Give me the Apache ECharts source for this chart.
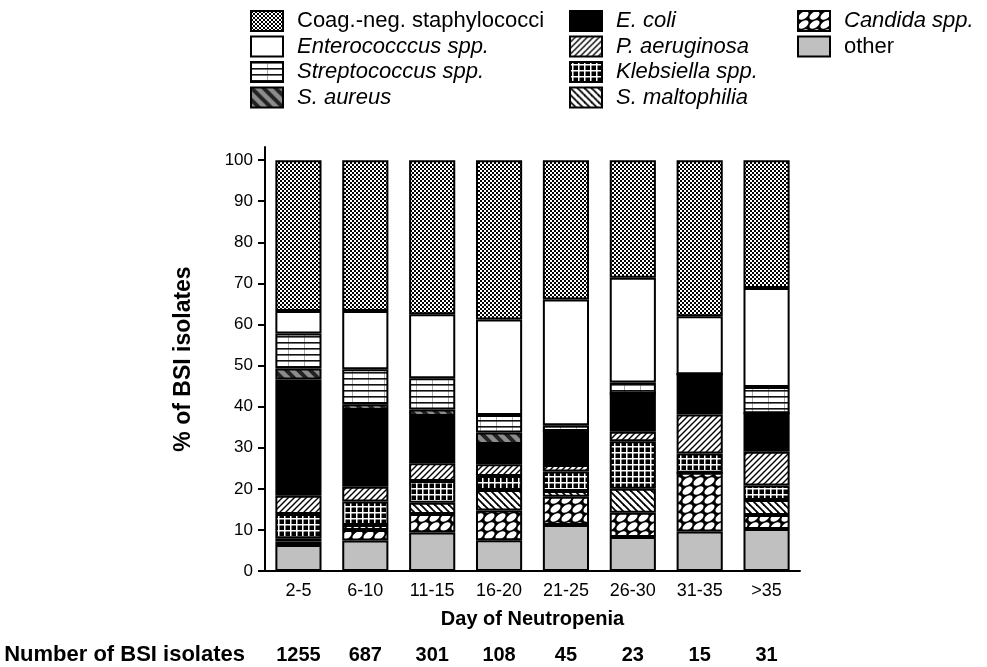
<!DOCTYPE html>
<html>
<head>
<meta charset="utf-8">
<script src="https://cdn.jsdelivr.net/npm/echarts@6/dist/echarts.min.js"></script>
<style>
html, body { margin: 0; padding: 0; background: #fff; }
#chart { width: 987px; height: 667px; }
</style>
</head>
<body>
<div id="chart"></div>
<script>
// Day-of-neutropenia groups and number of isolates in each
const categories = ['2-5', '6-10', '11-15', '16-20', '21-25', '26-30', '31-35', '>35'];
const isolateCounts = [1255, 687, 301, 108, 45, 23, 15, 31];
const yTicks = [0, 10, 20, 30, 40, 50, 60, 70, 80, 90, 100];

// Share of BSI isolates (%) per pathogen, one value per group
const cons          = [36.7, 36.7, 37.5, 38.8, 33.9, 28.6, 38.0, 31.1];
const enterococcus  = [5.5, 14.2, 15.6, 23.2, 30.6, 25.5, 14.1, 24.1];
const streptococcus = [8.5, 8.5, 7.6, 4.3, 1.4, 2.7, 0, 6.4];
const sAureus       = [2.7, 1.4, 1.6, 2.8, 0, 0, 0, 0];
const eColi         = [28.3, 18.7, 11.5, 4.9, 8.3, 9.3, 9.8, 9.4];
const pAeruginosa   = [4.4, 3.6, 4.3, 2.9, 1.6, 2.3, 9.5, 8.2];
const klebsiella    = [5.9, 5.7, 5.3, 3.4, 4.7, 11.6, 4.7, 3.5];
const sMaltophilia  = [0.8, 1.2, 2.7, 5.0, 1.4, 5.8, 0, 3.7];
const candida       = [0.9, 2.6, 4.5, 7.2, 6.9, 5.9, 14.3, 3.4];
const other         = [6.3, 7.4, 9.4, 7.5, 11.2, 8.3, 9.6, 10.2];

const FONT = '"Liberation Sans", Arial, Helvetica, sans-serif';

// ---- hatch / texture fills built on small canvas tiles ----
function tile(w, h, draw) {
  const c = document.createElement('canvas');
  c.width = w; c.height = h;
  const g = c.getContext('2d');
  draw(g, w, h);
  return { image: c, repeat: 'repeat' };
}
function diag(g, w, h, dir, width, color) {
  g.strokeStyle = color; g.lineWidth = width; g.lineCap = 'square';
  for (let k = -1; k <= 1; k++) {
    g.beginPath();
    if (dir > 0) { g.moveTo(k * w, h); g.lineTo(k * w + w, 0); }
    else { g.moveTo(k * w, 0); g.lineTo(k * w + w, h); }
    g.stroke();
  }
}
const fillCons = tile(4, 4, g => {
  g.fillStyle = '#fff'; g.fillRect(0, 0, 4, 4);
  g.fillStyle = '#000'; g.fillRect(0, 0, 2, 2); g.fillRect(2, 2, 2, 2);
});
const fillStrep = tile(16, 6, g => {
  g.fillStyle = '#fff'; g.fillRect(0, 0, 16, 6);
  g.fillStyle = '#aaa'; g.fillRect(0, 0, 1, 6);
  g.fillStyle = '#111'; g.fillRect(0, 0, 16, 1.6);
});
const fillAureus = tile(12, 12, g => {
  g.fillStyle = '#8c8c8c'; g.fillRect(0, 0, 12, 12);
  diag(g, 12, 12, -1, 4, '#222');
});
const fillPaer = tile(6, 6, g => {
  g.fillStyle = '#fff'; g.fillRect(0, 0, 6, 6);
  diag(g, 6, 6, 1, 1.4, '#000');
});
const fillKleb = tile(6, 6, g => {
  g.fillStyle = '#000'; g.fillRect(0, 0, 6, 6);
  g.fillStyle = '#fff'; g.fillRect(0, 2, 6, 1.5); g.fillRect(2, 0, 1.5, 6);
});
const fillMalt = tile(7, 7, g => {
  g.fillStyle = '#fff'; g.fillRect(0, 0, 7, 7);
  diag(g, 7, 7, -1, 1.8, '#000');
});
const fillCandida = tile(11, 9, g => {
  g.fillStyle = '#000'; g.fillRect(0, 0, 11, 9);
  g.fillStyle = '#fff';
  for (const dx of [-11, 0, 11]) for (const dy of [-9, 0, 9]) {
    g.beginPath();
    g.ellipse(5.5 + dx, 4.5 + dy, 5.6, 3.3, -0.6, 0, Math.PI * 2);
    g.fill();
  }
});

// stacking order, bottom to top
const stackDefs = [
  { name: 'other', data: other, fill: '#c0c0c0' },
  { name: 'Candida spp.', data: candida, fill: fillCandida },
  { name: 'S. maltophilia', data: sMaltophilia, fill: fillMalt },
  { name: 'Klebsiella spp.', data: klebsiella, fill: fillKleb },
  { name: 'P. aeruginosa', data: pAeruginosa, fill: fillPaer },
  { name: 'E. coli', data: eColi, fill: '#000' },
  { name: 'S. aureus', data: sAureus, fill: fillAureus },
  { name: 'Streptococcus spp.', data: streptococcus, fill: fillStrep },
  { name: 'Enterococccus spp.', data: enterococcus, fill: '#fff' },
  { name: 'Coag.-neg. staphylococci', data: cons, fill: fillCons }
];

const series = stackDefs.map(d => ({
  name: d.name,
  type: 'bar',
  stack: 'total',
  xAxisIndex: 0,
  barCategoryGap: '31%',
  data: d.data,
  itemStyle: { color: d.fill, borderColor: '#000', borderWidth: 2 },
  emphasis: { disabled: true },
  animation: false
}));

const legendText = { fontFamily: FONT, fontSize: 22, color: '#000', padding: [0, 0, 0, 9] };
const it = name => ({ name: name, textStyle: { fontStyle: 'italic' } });
const legendBase = {
  orient: 'vertical', top: 5, itemWidth: 32, itemHeight: 20, itemGap: 3.5,
  icon: 'rect', selectedMode: false, textStyle: legendText,
  itemStyle: { borderColor: '#000', borderWidth: 2 }
};

const option = {
  animation: false,
  backgroundColor: '#fff',
  textStyle: { fontFamily: FONT },
  grid: { left: 265, right: 187, top: 147, bottom: 96 },
  legend: [
    Object.assign({}, legendBase, { left: 245, data: ['Coag.-neg. staphylococci', it('Enterococccus spp.'), it('Streptococcus spp.'), it('S. aureus')] }),
    Object.assign({}, legendBase, { left: 564, data: [it('E. coli'), it('P. aeruginosa'), it('Klebsiella spp.'), it('S. maltophilia')] }),
    Object.assign({}, legendBase, { left: 792, data: [it('Candida spp.'), 'other'] })
  ],
  xAxis: [
    {
      type: 'category',
      data: categories,
      position: 'bottom',
      axisLine: { show: true, lineStyle: { color: '#000', width: 2 } },
      axisTick: { show: false },
      axisLabel: { color: '#000', fontSize: 18, margin: 11, fontFamily: FONT },
      name: 'Day of Neutropenia',
      nameLocation: 'middle',
      nameGap: 38,
      nameTextStyle: { color: '#000', fontSize: 20, fontWeight: 'bold', fontFamily: FONT }
    },
    {
      type: 'category',
      data: isolateCounts.map(String),
      position: 'bottom',
      offset: 55,
      axisLine: { show: false },
      axisTick: { show: false },
      axisLabel: { color: '#000', fontSize: 20, fontWeight: 'bold', margin: 19, fontFamily: FONT },
      name: 'Number of BSI isolates',
      nameLocation: 'start',
      nameGap: 20,
      nameTextStyle: { color: '#000', fontSize: 22, fontWeight: 'bold', fontFamily: FONT,
                       verticalAlign: 'top', padding: [18, 0, 0, 0] }
    }
  ],
  yAxis: {
    type: 'value',
    // the axis line runs a little past 100
    min: 0, max: 103.2, interval: 10,
    axisLine: { show: true, lineStyle: { color: '#000', width: 2 } },
    axisTick: { show: true, length: 7, customValues: yTicks, lineStyle: { color: '#000', width: 2 } },
    axisLabel: { color: '#000', fontSize: 17, margin: 12, fontFamily: FONT, customValues: yTicks },
    splitLine: { show: false },
    name: '% of BSI isolates',
    nameLocation: 'middle',
    nameGap: 70,
    nameTextStyle: { color: '#000', fontSize: 23, fontWeight: 'bold', fontFamily: FONT }
  },
  series: series
};

const chart = echarts.init(document.getElementById('chart'), null, { renderer: 'canvas' });
chart.setOption(option);
</script>
</body>
</html>
